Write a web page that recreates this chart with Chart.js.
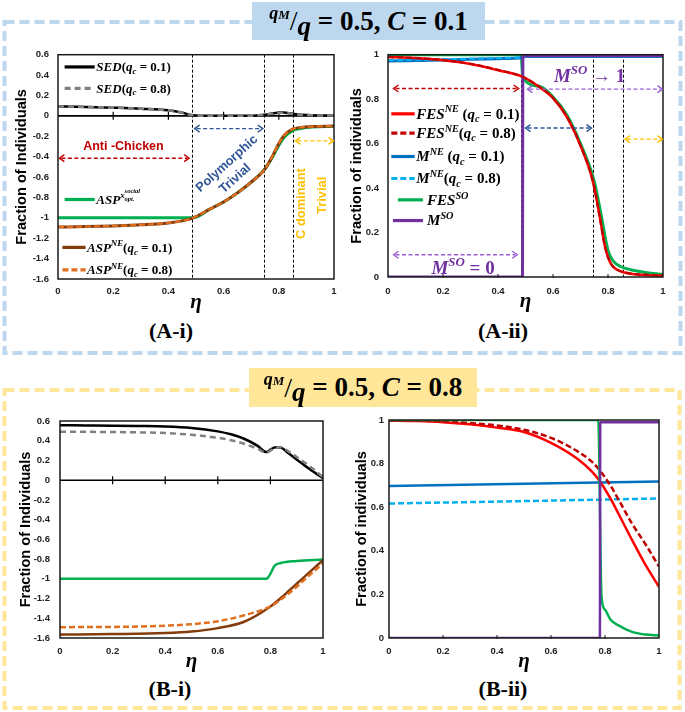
<!DOCTYPE html>
<html><head><meta charset="utf-8">
<script src="https://cdn.jsdelivr.net/npm/chart.js@4.4.1/dist/chart.umd.min.js"></script>
<style>
html,body{margin:0;padding:0;background:#fff;}
#page{position:relative;width:685px;height:712px;overflow:hidden;background:#fff;}
canvas{position:absolute;}
.tbox{position:absolute;display:flex;align-items:center;justify-content:center;font-family:"Liberation Serif","DejaVu Serif",serif;font-weight:bold;font-size:27px;color:#000;white-space:nowrap;}
.plab{position:absolute;font-family:"Liberation Serif","DejaVu Serif",serif;font-weight:bold;font-size:22px;transform:translate(-50%,-50%);white-space:nowrap;}
</style></head><body>
<div id="page">
<svg width="685" height="712" style="position:absolute;left:0;top:0">
<rect x="4.5" y="22" width="676" height="331" fill="none" stroke="#bdd7ee" stroke-width="4" stroke-dasharray="10 5"/>
<rect x="4.5" y="390" width="675" height="318" fill="none" stroke="#ffe699" stroke-width="4" stroke-dasharray="10 5"/>
</svg>
<canvas id="c1" width="345" height="275" style="left:0px;top:40px"></canvas>
<canvas id="c2" width="340" height="275" style="left:345px;top:40px"></canvas>
<canvas id="c3" width="345" height="270" style="left:0px;top:405px"></canvas>
<canvas id="c4" width="340" height="270" style="left:345px;top:405px"></canvas>
<div class="tbox" style="left:252px;top:2px;width:233px;height:38px;background:#bdd7ee"><span style="font-style:italic;font-size:18px;position:relative;top:-8px">q<span style="font-size:13px">M</span></span><span style="font-weight:normal;font-size:28px">/</span><i style="position:relative;top:5px">q</i>&nbsp;= 0.5, <i>&nbsp;C</i>&nbsp;= 0.1</div>
<div class="tbox" style="left:249px;top:368px;width:228px;height:39px;background:#ffe699"><span style="font-style:italic;font-size:18px;position:relative;top:-8px">q<span style="font-size:13px">M</span></span><span style="font-weight:normal;font-size:28px">/</span><i style="position:relative;top:5px">q</i>&nbsp;= 0.5, <i>&nbsp;C</i>&nbsp;= 0.8</div>
<div class="plab" style="left:171px;top:331px">(A-i)</div>
<div class="plab" style="left:503px;top:331px">(A-ii)</div>
<div class="plab" style="left:170px;top:689px">(B-i)</div>
<div class="plab" style="left:503px;top:689px">(B-ii)</div>
</div>
<script>
// ---------------- DATA ----------------
const X_TICKS = [0, 0.2, 0.4, 0.6, 0.8, 1];

// (A-i)  qM/q = 0.5, C = 0.1
const etaSED_A = [0, 0.1, 0.2, 0.3, 0.4, 0.45, 0.49, 0.55, 0.65, 0.72, 0.75, 0.78, 0.81, 0.84, 0.87, 0.92, 1];
const sedQ1_A  = [0.093, 0.088, 0.08, 0.07, 0.054, 0.032, 0.005, 0, 0, 0.004, 0.012, 0.025, 0.035, 0.025, 0.013, 0.006, 0.003];
const sedQ8_A  = [0.093, 0.088, 0.08, 0.07, 0.054, 0.032, 0.005, 0, 0, 0.004, 0.012, 0.023, 0.033, 0.024, 0.013, 0.006, 0.003];
const etaASP_A = [0, 0.1, 0.2, 0.3, 0.4, 0.45, 0.49, 0.55, 0.6, 0.65, 0.7, 0.75, 0.78, 0.8, 0.82, 0.85, 0.88, 0.92, 1];
const aspNEq1_A = [-1.09, -1.086, -1.079, -1.069, -1.05, -1.03, -1.0, -0.915, -0.845, -0.755, -0.65, -0.52, -0.38, -0.27, -0.19, -0.13, -0.113, -0.105, -0.1];
const aspNEq8_A = [-1.09, -1.086, -1.079, -1.069, -1.05, -1.03, -1.0, -0.915, -0.845, -0.755, -0.65, -0.52, -0.38, -0.27, -0.19, -0.13, -0.113, -0.105, -0.1];
const etaSO_A  = [0, 0.2, 0.4, 0.485, 0.49, 0.55, 0.6, 0.65, 0.7, 0.75, 0.78, 0.8, 0.82, 0.85, 0.88, 0.92, 1];
const aspSO_A  = [-1.0, -1.0, -1.0, -1.0, -1.0, -0.915, -0.845, -0.755, -0.65, -0.52, -0.39, -0.29, -0.21, -0.145, -0.123, -0.11, -0.103];

// (A-ii)
const etaFES_A = [0, 0.1, 0.2, 0.3, 0.4, 0.49, 0.55, 0.6, 0.65, 0.7, 0.745, 0.77, 0.79, 0.81, 0.83, 0.86, 0.9, 0.95, 1];
const fesNEq1_A = [0.99, 0.985, 0.975, 0.958, 0.93, 0.9, 0.855, 0.805, 0.72, 0.59, 0.43, 0.27, 0.13, 0.06, 0.035, 0.02, 0.012, 0.008, 0.006];
const fesNEq8_A = [0.99, 0.985, 0.976, 0.959, 0.932, 0.9, 0.856, 0.806, 0.722, 0.592, 0.43, 0.27, 0.13, 0.062, 0.036, 0.021, 0.013, 0.009, 0.007];
const etaFSO_A = [0, 0.2, 0.4, 0.484, 0.49, 0.55, 0.6, 0.65, 0.7, 0.75, 0.775, 0.8, 0.82, 0.85, 0.9, 0.95, 1];
const fesSO_A  = [1.0, 1.0, 1.0, 1.0, 0.9, 0.858, 0.81, 0.73, 0.6, 0.43, 0.28, 0.12, 0.07, 0.045, 0.028, 0.018, 0.012];
const etaM_A   = [0, 0.2, 0.4, 0.49, 0.5, 0.75, 1];
const mNEq1_A  = [0.972, 0.976, 0.982, 0.987, 0.992, 0.992, 0.992];
const mNEq8_A  = [0.975, 0.979, 0.985, 0.989, 0.993, 0.993, 0.993];
const etaMSO_A = [0, 0.489, 0.4905, 1];
const mSO_A    = [0, 0, 0.995, 0.995];

// (B-i)  qM/q = 0.5, C = 0.8
const etaSED_B = [0, 0.1, 0.2, 0.3, 0.4, 0.5, 0.6, 0.65, 0.7, 0.75, 0.785, 0.8, 0.82, 0.84, 0.87, 0.9, 0.95, 1];
const sedQ1_B  = [0.557, 0.555, 0.553, 0.55, 0.545, 0.53, 0.495, 0.465, 0.42, 0.35, 0.285, 0.31, 0.335, 0.33, 0.27, 0.21, 0.11, 0.02];
const sedQ8_B  = [0.49, 0.49, 0.488, 0.485, 0.478, 0.46, 0.43, 0.405, 0.37, 0.32, 0.28, 0.3, 0.33, 0.335, 0.29, 0.235, 0.14, 0.03];
const etaASP_B = [0, 0.2, 0.4, 0.5, 0.6, 0.7, 0.8, 0.85, 0.9, 0.95, 1];
const aspNEq1_B = [-1.565, -1.56, -1.55, -1.535, -1.5, -1.435, -1.28, -1.17, -1.05, -0.93, -0.81];
const aspNEq8_B = [-1.49, -1.488, -1.475, -1.46, -1.43, -1.37, -1.28, -1.19, -1.08, -0.96, -0.845];
const etaSO_B  = [0, 0.4, 0.785, 0.8, 0.815, 0.84, 0.9, 1];
const aspSO_B  = [-1.0, -1.0, -1.0, -0.95, -0.87, -0.84, -0.82, -0.805];

// (B-ii)
const etaFES_B = [0, 0.1, 0.2, 0.3, 0.4, 0.5, 0.6, 0.7, 0.75, 0.78, 0.82, 0.85, 0.9, 0.95, 1];
const fesNEq1_B = [0.997, 0.995, 0.99, 0.98, 0.965, 0.945, 0.895, 0.82, 0.765, 0.72, 0.64, 0.57, 0.45, 0.335, 0.235];
const fesNEq8_B = [0.998, 0.997, 0.993, 0.986, 0.975, 0.955, 0.918, 0.855, 0.81, 0.77, 0.7, 0.635, 0.525, 0.43, 0.328];
const etaM_B   = [0, 0.5, 1];
const mNEq1_B  = [0.697, 0.707, 0.718];
const mNEq8_B  = [0.617, 0.628, 0.64];
const etaFSO_B = [0, 0.5, 0.775, 0.787, 0.8, 0.82, 0.85, 0.9, 0.95, 1];
const fesSO_B  = [1.0, 1.0, 1.0, 0.19, 0.13, 0.085, 0.058, 0.028, 0.016, 0.012];
const etaMSO_B = [0, 0.781, 0.7825, 1];
const mSO_B    = [0, 0, 0.99, 0.99];

// Regime boundaries (vertical dashed lines)
const vlines_A1 = [0.486, 0.746, 0.852];
const vlines_A2 = [0.483, 0.745, 0.855];

// ---------------- STYLE / HELPERS ----------------
const SERIF = '"Liberation Serif","DejaVu Serif",serif';
const mctx = document.createElement('canvas').getContext('2d');
function hasFont(f){ mctx.font='20px monospace'; const a=mctx.measureText('Fraction of Individuals').width; mctx.font='20px "'+f+'", monospace'; return Math.abs(mctx.measureText('Fraction of Individuals').width-a)>0.5; }
const NARROW = hasFont('Liberation Sans Narrow');
const SANS = NARROW ? '"Liberation Sans Narrow","Liberation Sans",sans-serif' : '"Liberation Sans",Arial,sans-serif';
const K = NARROW ? 1.0 : 0.86; // size factor for condensed look

const C = {black:'#000000', grey:'#808080', green:'#00b050', brown:'#843c0c', orange:'#e0701f',
  red:'#ff0000', dred:'#c00000', blue:'#0070c0', lblue:'#00b0f0', purple:'#7030a0',
  aPurple:'#9b5fd6', aBlue:'#2f5597', aRed:'#c00000', aOrange:'#ffc000'};

const pts = (xs, ys) => xs.map((x, i) => ({x, y: ys[i]}));
function ds(label, xs, ys, color, dash, width){
  return {label, data: pts(xs, ys), borderColor: color, backgroundColor: color, borderDash: dash || [],
    borderWidth: width || 2.5, pointRadius: 0, fill: false, cubicInterpolationMode: 'monotone'};
}

// Rich text (math-like labels)
const STY = {
  i:  {f:'italic bold', s:1, dy:0},
  n:  {f:'bold', s:1, dy:0},
  sup:{f:'italic bold', s:0.68, dy:-0.42},
  sub:{f:'italic bold', s:0.68, dy:0.22},
  ss: {f:'italic bold', s:0.5, dy:-0.8, noadv:true},
  sb: {f:'italic bold', s:0.5, dy:-0.22},
};
function richDraw(ctx, segs, x, y, size, color, align){
  let cx = 0, pend = 0; const items = [];
  for (const [t, k] of segs){
    const st = STY[k]; ctx.font = `${st.f} ${size*st.s}px ${SERIF}`;
    const w = ctx.measureText(t).width;
    items.push({t, font: ctx.font, x: cx, dy: st.dy*size});
    if (st.noadv) pend = w; else { cx += Math.max(w, pend); pend = 0; }
  }
  const x0 = align === 'center' ? x - cx/2 : x;
  ctx.fillStyle = color; ctx.textBaseline = 'alphabetic'; ctx.textAlign = 'left';
  for (const it of items){ ctx.font = it.font; ctx.fillText(it.t, x0 + it.x, y + size*0.33 + it.dy); }
}

// Labels
const LBL = {
  sed1: [['SED','i'],['(','n'],['q','i'],['c','sub'],[' = 0.1)','n']],
  sed8: [['SED','i'],['(','n'],['q','i'],['c','sub'],[' = 0.8)','n']],
  aspSO:[['ASP','i'],['x','sup'],['social','ss'],['opt.','sb']],
  asp1: [['ASP','i'],['NE','sup'],['(','n'],['q','i'],['c','sub'],[' = 0.1)','n']],
  asp8: [['ASP','i'],['NE','sup'],['(','n'],['q','i'],['c','sub'],[' = 0.8)','n']],
  fes1: [['FES','i'],['NE','sup'],[' (','n'],['q','i'],['c','sub'],[' = 0.1)','n']],
  fes8: [['FES','i'],['NE','sup'],['(','n'],['q','i'],['c','sub'],[' = 0.8)','n']],
  m1:   [['M','i'],['NE','sup'],[' (','n'],['q','i'],['c','sub'],[' = 0.1)','n']],
  m8:   [['M','i'],['NE','sup'],['(','n'],['q','i'],['c','sub'],[' = 0.8)','n']],
  fesSO:[['FES','i'],['SO','sup']],
  mSO:  [['M','i'],['SO','sup']],
  mTo1: [['M','i'],['SO','sup'],[' → 1','n']],
  mEq0: [['M','i'],['SO','sup'],[' = 0','n']],
};

// Decorations per chart (positions in data units)
const DECO = {
  c1: {
    vlines: vlines_A1, zero: true, legSize: 13,
    arrows: [
      {x0:0.005, x1:0.475, y:-0.415, c:C.aRed},
      {x0:0.495, x1:0.742, y:-0.125, c:C.aBlue},
      {x0:0.86, x1:0.998, y:-0.245, c:C.aOrange}],
    texts: [
      {x:0.237, y:-0.296, t:'Anti -Chicken', c:C.aRed, s:14.5, rot:0},
      {x:0.612, y:-0.47, t:'Polymorphic', c:C.aBlue, s:15, rot:-42},
      {x:0.642, y:-0.615, t:'Trivial', c:C.aBlue, s:15, rot:-42},
      {x:0.882, y:-0.86, t:'C dominant', c:C.aOrange, s:15, rot:-90},
      {x:0.958, y:-0.78, t:'Trivial', c:C.aOrange, s:15, rot:-90}],
    legend: [
      {x0:0.024, x1:0.133, y:0.48, c:C.black, d:[], lab:LBL.sed1, tx:0.139},
      {x0:0.024, x1:0.133, y:0.27, c:C.grey, d:[6,4], lab:LBL.sed8, tx:0.139},
      {x0:0.024, x1:0.133, y:-0.82, c:C.green, d:[], lab:LBL.aspSO, tx:0.139},
      {x0:0.016, x1:0.10, y:-1.29, c:C.brown, d:[], lab:LBL.asp1, tx:0.105},
      {x0:0.016, x1:0.10, y:-1.51, c:C.orange, d:[6,3], lab:LBL.asp8, tx:0.105}],
    rich: []
  },
  c2: {
    vlines: vlines_A2, bottomTicks: true, legSize: 15,
    arrows: [
      {x0:0.02, x1:0.475, y:0.848, c:C.aRed},
      {x0:0.507, x1:0.998, y:0.845, c:C.aPurple},
      {x0:0.5, x1:0.74, y:0.67, c:C.aBlue},
      {x0:0.862, x1:0.998, y:0.62, c:C.aOrange},
      {x0:0.02, x1:0.47, y:0.1, c:C.aPurple}],
    texts: [],
    legend: [
      {x0:0.012, x1:0.097, y:0.734, c:C.red, d:[], lab:LBL.fes1, tx:0.103},
      {x0:0.012, x1:0.097, y:0.647, c:C.dred, d:[6,3], lab:LBL.fes8, tx:0.103},
      {x0:0.012, x1:0.097, y:0.542, c:C.blue, d:[], lab:LBL.m1, tx:0.103},
      {x0:0.012, x1:0.097, y:0.443, c:C.lblue, d:[6,3], lab:LBL.m8, tx:0.103},
      {x0:0.036, x1:0.127, y:0.347, c:C.green, d:[], lab:LBL.fesSO, tx:0.142},
      {x0:0.018, x1:0.127, y:0.254, c:C.purple, d:[], lab:LBL.mSO, tx:0.142}],
    rich: [
      {x:0.733, y:0.905, lab:LBL.mTo1, c:C.purple, s:19},
      {x:0.273, y:0.04, lab:LBL.mEq0, c:C.purple, s:19}]
  },
  c3: {vlines: [], zero: true, arrows: [], texts: [], legend: [], rich: []},
  c4: {vlines: [], bottomTicks: true, arrows: [], texts: [], legend: [], rich: []},
};

function seg(ctx, x0, y0, x1, y1){ ctx.beginPath(); ctx.moveTo(x0, y0); ctx.lineTo(x1, y1); ctx.stroke(); }

const decoPlugin = {
  id: 'deco',
  beforeDatasetsDraw(chart){
    const o = DECO[chart.canvas.id]; const {ctx, chartArea: a, scales: {x, y}} = chart;
    ctx.save();
    ctx.strokeStyle = '#000'; ctx.lineWidth = 1; ctx.setLineDash([3, 2]);
    for (const v of o.vlines){ const px = Math.round(x.getPixelForValue(v)) + 0.5; seg(ctx, px, a.top, px, a.bottom); }
    ctx.setLineDash([]);
    if (o.zero){
      const py = y.getPixelForValue(0);
      ctx.lineWidth = 1.6; seg(ctx, a.left, py, a.right, py);
      ctx.lineWidth = 1.2;
      for (const v of X_TICKS){ if (v === 0 || v === 1) continue; const px = x.getPixelForValue(v); seg(ctx, px, py - 4, px, py + 4); }
    }
    ctx.restore();
  },
  afterDatasetsDraw(chart){
    const o = DECO[chart.canvas.id]; const {ctx, chartArea: a, scales: {x, y}} = chart;
    ctx.save();
    // plot frame
    ctx.strokeStyle = '#1a1a1a'; ctx.lineWidth = 1.5; ctx.setLineDash([]);
    ctx.strokeRect(a.left, a.top, a.right - a.left, a.bottom - a.top);
    if (o.bottomTicks){
      ctx.lineWidth = 1;
      for (const v of X_TICKS){ if (v === 0 || v === 1) continue; const px = x.getPixelForValue(v); seg(ctx, px, a.bottom - 3, px, a.bottom + 1); }
    }
    // arrows
    for (const ar of o.arrows){
      const x0 = x.getPixelForValue(ar.x0), x1 = x.getPixelForValue(ar.x1), py = y.getPixelForValue(ar.y);
      ctx.strokeStyle = ar.c; ctx.lineWidth = 1.4; ctx.setLineDash([4, 2.5]);
      seg(ctx, x0 + 2, py, x1 - 2, py);
      ctx.setLineDash([]); ctx.lineWidth = 1.4;
      ctx.beginPath(); ctx.moveTo(x0 + 5, py - 3.5); ctx.lineTo(x0, py); ctx.lineTo(x0 + 5, py + 3.5); ctx.stroke();
      ctx.beginPath(); ctx.moveTo(x1 - 5, py - 3.5); ctx.lineTo(x1, py); ctx.lineTo(x1 - 5, py + 3.5); ctx.stroke();
    }
    // plain texts
    for (const t of o.texts){
      const px = x.getPixelForValue(t.x), py = y.getPixelForValue(t.y);
      ctx.save(); ctx.translate(px, py); ctx.rotate(t.rot * Math.PI / 180);
      ctx.font = `bold ${Math.round(t.s * K * 10) / 10}px ${SANS}`; ctx.fillStyle = t.c;
      ctx.textAlign = 'center'; ctx.textBaseline = 'middle'; ctx.fillText(t.t, 0, 0); ctx.restore();
    }
    // legend entries
    for (const l of o.legend){
      const x0 = x.getPixelForValue(l.x0), x1 = x.getPixelForValue(l.x1), py = y.getPixelForValue(l.y);
      ctx.strokeStyle = l.c; ctx.lineWidth = 3.2; ctx.setLineDash(l.d); seg(ctx, x0, py, x1, py); ctx.setLineDash([]);
      richDraw(ctx, l.lab, x.getPixelForValue(l.tx), py, o.legSize || 14, '#000', 'left');
    }
    for (const r of o.rich){
      richDraw(ctx, r.lab, x.getPixelForValue(r.x), y.getPixelForValue(r.y), r.s, r.c, 'center');
    }
    ctx.restore();
  }
};

const fmt = v => { const r = Math.round(v * 10) / 10; return String(r === 0 ? 0 : r); };

function makeChart(id, p, datasets){
  return new Chart(document.getElementById(id), {
    type: 'line',
    data: {datasets},
    plugins: [decoPlugin],
    options: {
      responsive: false, animation: false, devicePixelRatio: 1,
      layout: {padding: {left: 0, top: p.padTop, right: p.padRight, bottom: 0}},
      plugins: {legend: {display: false}, tooltip: {enabled: false}},
      elements: {line: {borderCapStyle: 'butt'}},
      scales: {
        x: {type: 'linear', min: 0, max: 1,
          afterBuildTicks: s => { s.ticks = X_TICKS.map(v => ({value: v})); },
          afterFit: s => { s.height = p.xH; },
          grid: {display: false, drawTicks: false}, border: {display: false},
          ticks: {padding: p.xTickPad, color: '#222', font: {family: SANS, size: Math.round(11 * K * 10) / 10, weight: 'bold'}, callback: fmt, maxRotation: 0},
          title: {display: true, text: 'η', color: '#000', padding: {top: 0, bottom: p.xTitlePad},
            font: {family: SERIF, size: 21, style: 'italic', weight: 'bold', lineHeight: 1}}},
        y: {type: 'linear', min: p.yMin, max: p.yMax,
          ticks: {stepSize: 0.2, padding: p.yTickPad, color: '#222', font: {family: SANS, size: Math.round(11 * K * 10) / 10, weight: 'bold'}, callback: fmt},
          afterFit: s => { s.width = p.yW; },
          grid: {display: false, drawTicks: false}, border: {display: false},
          title: {display: true, text: p.yTitle, color: '#000', padding: {top: p.yTitlePad, bottom: 0},
            font: {family: SANS, size: Math.round(17 * K * 10) / 10, weight: 'bold', lineHeight: 1}}}
      }
    }
  });
}

makeChart('c1', {padTop: 13, padRight: 11, xH: 36, yW: 58, yMin: -1.6, yMax: 0.6, xTickPad: 7, yTickPad: 9, xTitlePad: 2, yTitlePad: 15, yTitle: 'Fraction of Individuals'}, [
  ds('ASP NE (qc=0.8)', etaASP_A, aspNEq8_A, C.orange, [6, 3], 2.2),
  ds('ASP NE (qc=0.1)', etaASP_A, aspNEq1_A, C.brown, [], 3),
  ds('ASP social opt', etaSO_A, aspSO_A, C.green, [], 3),
  ds('SED (qc=0.8)', etaSED_A, sedQ8_A, C.grey, [6, 4], 2.5),
  ds('SED (qc=0.1)', etaSED_A, sedQ1_A, C.black, [], 2.5),
]);
makeChart('c2', {padTop: 11, padRight: 22, xH: 38, yW: 43, yMin: 0, yMax: 1, xTickPad: 9, yTickPad: 9, xTitlePad: 3, yTitlePad: 5, yTitle: 'Fraction of individuals'}, [
  ds('FES NE (qc=0.8)', etaFES_A, fesNEq8_A, C.dred, [6, 3], 2.2),
  ds('M SO', etaMSO_A, mSO_A, C.purple, [], 3),
  ds('FES NE (qc=0.1)', etaFES_A, fesNEq1_A, C.red, [], 2.5),
  ds('M NE (qc=0.8)', etaM_A, mNEq8_A, C.lblue, [6, 3], 2.2),
  ds('M NE (qc=0.1)', etaM_A, mNEq1_A, C.blue, [], 3),
  ds('FES SO', etaFSO_A, fesSO_A, C.green, [], 3),
]);
makeChart('c3', {padTop: 16, padRight: 22, xH: 37, yW: 60, yMin: -1.6, yMax: 0.6, xTickPad: 8, yTickPad: 10, xTitlePad: 3, yTitlePad: 19, yTitle: 'Fraction of Individuals'}, [
  ds('ASP NE (qc=0.8)', etaASP_B, aspNEq8_B, C.orange, [6, 3], 2.5),
  ds('ASP NE (qc=0.1)', etaASP_B, aspNEq1_B, C.brown, [], 2.5),
  ds('ASP social opt', etaSO_B, aspSO_B, C.green, [], 2.5),
  ds('SED (qc=0.8)', etaSED_B, sedQ8_B, C.grey, [6, 4], 2.5),
  ds('SED (qc=0.1)', etaSED_B, sedQ1_B, C.black, [], 2.5),
]);
makeChart('c4', {padTop: 15, padRight: 26, xH: 37, yW: 44, yMin: 0, yMax: 1, xTickPad: 8, yTickPad: 5, xTitlePad: 3, yTitlePad: 10, yTitle: 'Fraction of individuals'}, [
  ds('M SO', etaMSO_B, mSO_B, C.purple, [], 2.5),
  ds('FES SO', etaFSO_B, fesSO_B, C.green, [], 2.5),
  ds('FES NE (qc=0.8)', etaFES_B, fesNEq8_B, C.dred, [6, 3], 2.5),
  ds('FES NE (qc=0.1)', etaFES_B, fesNEq1_B, C.red, [], 2.5),
  ds('M NE (qc=0.8)', etaM_B, mNEq8_B, C.lblue, [6, 3], 2.5),
  ds('M NE (qc=0.1)', etaM_B, mNEq1_B, C.blue, [], 2.5),
]);
</script>
</body></html>
